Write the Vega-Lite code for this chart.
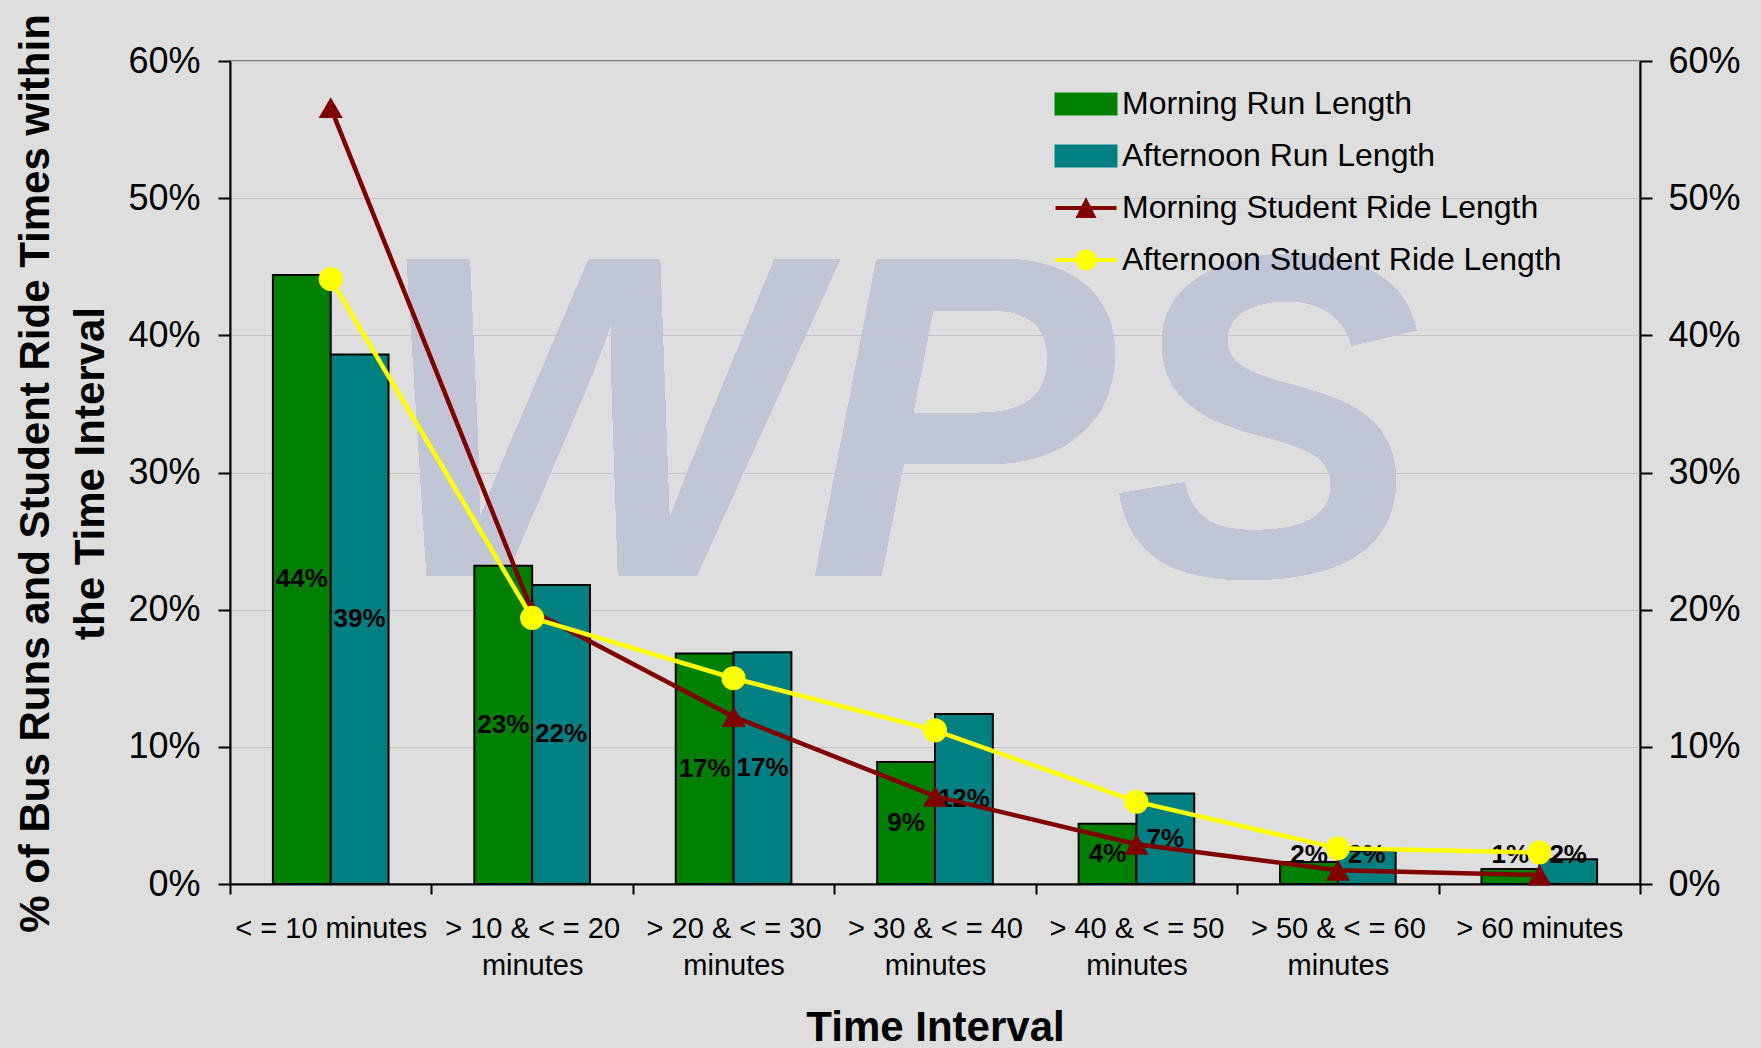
{
  "$schema": "https://vega.github.io/schema/vega-lite/v6.json",
  "width": 1410,
  "height": 823,
  "autosize": {"type": "none"},
  "padding": {"left": 230, "top": 61, "right": 121, "bottom": 164},
  "background": "#dedede",
  "config": {
    "font": "Liberation Sans",
    "view": {"stroke": "#808080", "strokeWidth": 2, "fill": "#dedede"}
  },
  "data": {
    "values": [
      {"interval": "< = 10 minutes", "series": "Morning Run Length", "value": 0.444},
      {"interval": "> 10 & < = 20 minutes", "series": "Morning Run Length", "value": 0.232},
      {"interval": "> 20 & < = 30 minutes", "series": "Morning Run Length", "value": 0.168},
      {"interval": "> 30 & < = 40 minutes", "series": "Morning Run Length", "value": 0.089},
      {"interval": "> 40 & < = 50 minutes", "series": "Morning Run Length", "value": 0.044},
      {"interval": "> 50 & < = 60 minutes", "series": "Morning Run Length", "value": 0.016},
      {"interval": "> 60 minutes", "series": "Morning Run Length", "value": 0.011},
      {"interval": "< = 10 minutes", "series": "Afternoon Run Length", "value": 0.386},
      {"interval": "> 10 & < = 20 minutes", "series": "Afternoon Run Length", "value": 0.218},
      {"interval": "> 20 & < = 30 minutes", "series": "Afternoon Run Length", "value": 0.169},
      {"interval": "> 30 & < = 40 minutes", "series": "Afternoon Run Length", "value": 0.124},
      {"interval": "> 40 & < = 50 minutes", "series": "Afternoon Run Length", "value": 0.066},
      {"interval": "> 50 & < = 60 minutes", "series": "Afternoon Run Length", "value": 0.024},
      {"interval": "> 60 minutes", "series": "Afternoon Run Length", "value": 0.018},
      {"interval": "< = 10 minutes", "series": "Morning Student Ride Length", "value": 0.566},
      {"interval": "> 10 & < = 20 minutes", "series": "Morning Student Ride Length", "value": 0.199},
      {"interval": "> 20 & < = 30 minutes", "series": "Morning Student Ride Length", "value": 0.122},
      {"interval": "> 30 & < = 40 minutes", "series": "Morning Student Ride Length", "value": 0.064},
      {"interval": "> 40 & < = 50 minutes", "series": "Morning Student Ride Length", "value": 0.029},
      {"interval": "> 50 & < = 60 minutes", "series": "Morning Student Ride Length", "value": 0.010},
      {"interval": "> 60 minutes", "series": "Morning Student Ride Length", "value": 0.0066},
      {"interval": "< = 10 minutes", "series": "Afternoon Student Ride Length", "value": 0.441},
      {"interval": "> 10 & < = 20 minutes", "series": "Afternoon Student Ride Length", "value": 0.194},
      {"interval": "> 20 & < = 30 minutes", "series": "Afternoon Student Ride Length", "value": 0.150},
      {"interval": "> 30 & < = 40 minutes", "series": "Afternoon Student Ride Length", "value": 0.112},
      {"interval": "> 40 & < = 50 minutes", "series": "Afternoon Student Ride Length", "value": 0.060},
      {"interval": "> 50 & < = 60 minutes", "series": "Afternoon Student Ride Length", "value": 0.026},
      {"interval": "> 60 minutes", "series": "Afternoon Student Ride Length", "value": 0.023}
    ]
  },
  "encoding": {
    "x": {
      "field": "interval",
      "type": "nominal",
      "sort": null,
      "scale": {
        "type": "band",
        "domain": ["< = 10 minutes", "> 10 & < = 20 minutes", "> 20 & < = 30 minutes", "> 30 & < = 40 minutes", "> 40 & < = 50 minutes", "> 50 & < = 60 minutes", "> 60 minutes"],
        "paddingInner": 0,
        "paddingOuter": 0
      },
      "axis": {
        "orient": "bottom",
        "title": "Time Interval",
        "titleFontSize": 42,
        "titleFontWeight": "bold",
        "titleColor": "black",
        "titleX": 705,
        "titleY": 156,
        "titleAlign": "center",
        "titleBaseline": "alphabetic",
        "labelAngle": 0,
        "labelFontSize": 29,
        "labelColor": "black",
        "labelLineHeight": 37,
        "labelBaseline": "alphabetic",
        "labelPadding": 43,
        "labelOverlap": false,
        "labelLimit": 400,
        "labelExpr": "length(datum.label) > 14 ? [replace(datum.label, ' minutes', ''), 'minutes'] : datum.label",
        "tickBand": "extent",
        "tickSize": 10,
        "tickColor": "black",
        "tickWidth": 2,
        "domainColor": "black",
        "domainWidth": 2,
        "grid": false
      }
    },
    "y": {
      "field": "value",
      "type": "quantitative",
      "scale": {"domain": [0, 0.6], "nice": false, "zero": true},
      "axis": {
        "orient": "left",
        "values": [0, 0.1, 0.2, 0.3, 0.4, 0.5, 0.6],
        "format": ".0%",
        "labelFontSize": 36,
        "labelColor": "black",
        "labelPadding": 18,
        "tickSize": 12,
        "tickColor": "black",
        "tickWidth": 2,
        "domainColor": "black",
        "domainWidth": 2,
        "grid": true,
        "gridColor": "#c4c4c4",
        "gridWidth": 1,
        "title": ["% of Bus Runs and Student Ride Times within", "the Time Interval"],
        "titleFontSize": 42,
        "titleFontWeight": "bold",
        "titleColor": "black",
        "titleLineHeight": 55,
        "titleAngle": 270,
        "titleAlign": "center",
        "titleBaseline": "alphabetic",
        "titleX": -182,
        "titleY": 412
      }
    },
    "color": {
      "field": "series",
      "type": "nominal",
      "scale": {
        "domain": ["Morning Run Length", "Afternoon Run Length", "Morning Student Ride Length", "Afternoon Student Ride Length"],
        "range": ["#008000", "#008080", "#800000", "#ffff00"]
      },
      "legend": {
        "orient": "none",
        "legendX": 840,
        "legendY": 27,
        "title": null,
        "padding": 0,
        "symbolSize": 1936,
        "symbolOpacity": 1,
        "symbolStrokeColor": "black",
        "symbolStrokeWidth": 0,
        "labelFontSize": 32,
        "labelColor": "black",
        "labelOffset": 20,
        "labelLimit": 600,
        "rowPadding": 20,
        "encode": {
          "symbols": {
            "update": {
              "shape": {"signal": "datum.value == 'Morning Run Length' || datum.value == 'Afternoon Run Length' ? 'M-1.386,-0.477H1.386V0.477H-1.386Z' : datum.value == 'Morning Student Ride Length' ? 'M-1.386,-0.09H-0.15V0.09H-1.386Z M0.15,-0.09H1.386V0.09H0.15Z M0,-0.5L0.477,0.45L-0.477,0.45Z' : 'M-1.386,-0.09H-0.3V0.09H-1.386Z M0.3,-0.09H1.386V0.09H0.3Z M0.477,0A0.477,0.477 0 1,1 -0.477,0A0.477,0.477 0 1,1 0.477,0Z'"},
              "fill": {"signal": "scale('color', datum.value)"},
              "stroke": {"signal": "datum.value == 'Morning Run Length' || datum.value == 'Afternoon Run Length' ? 'black' : 'transparent'"},
              "strokeWidth": {"signal": "datum.value == 'Morning Run Length' || datum.value == 'Afternoon Run Length' ? 2 : 0"},
              "opacity": {"value": 1},
              "fillOpacity": {"value": 1}
            }
          }
        }
      }
    }
  },
  "resolve": {"axis": {"y": "independent"}},
  "layer": [
    {
      "mark": {"type": "text", "text": "WPS", "fontSize": 460, "fontWeight": "bold", "fontStyle": "italic", "opacity": 0.22, "align": "center", "baseline": "alphabetic", "dx": -38},
      "encoding": {
        "x": {"datum": "> 30 & < = 40 minutes", "type": "nominal"},
        "y": {"datum": 0.225, "type": "quantitative", "axis": null},
        "color": {"value": "#c0c6d6"}
      }
    },
    {
      "transform": [{"filter": "datum.series == 'Morning Run Length' || datum.series == 'Afternoon Run Length'"}],
      "mark": {"type": "bar", "stroke": "black", "strokeWidth": 2, "opacity": 1},
      "encoding": {
        "xOffset": {"field": "series", "type": "nominal", "scale": {"domain": ["Morning Run Length", "Afternoon Run Length"], "paddingInner": 0, "paddingOuter": 0.742}}
      }
    },
    {
      "transform": [
        {"filter": "datum.series == 'Morning Run Length' || datum.series == 'Afternoon Run Length'"},
        {"calculate": "max(datum.value / 2, 0.021)", "as": "mid"}
      ],
      "mark": {"type": "text", "fontSize": 26, "fontWeight": "bold", "baseline": "middle", "align": "center"},
      "encoding": {
        "xOffset": {"field": "series", "type": "nominal", "scale": {"domain": ["Morning Run Length", "Afternoon Run Length"], "paddingInner": 0, "paddingOuter": 0.742}},
        "y": {"field": "mid", "type": "quantitative", "axis": null},
        "text": {"field": "value", "type": "quantitative", "format": ".0%"},
        "color": {"value": "black"}
      }
    },
    {
      "transform": [{"filter": "datum.series == 'Morning Student Ride Length' || datum.series == 'Afternoon Student Ride Length'"}],
      "mark": {"type": "line", "strokeWidth": 4.5},
      "encoding": {
        "y": {
          "field": "value",
          "type": "quantitative",
          "axis": {
            "orient": "right",
            "values": [0, 0.1, 0.2, 0.3, 0.4, 0.5, 0.6],
            "format": ".0%",
            "labelFontSize": 36,
            "labelColor": "black",
            "labelPadding": 16,
            "tickSize": 12,
            "tickColor": "black",
            "tickWidth": 2,
            "domainColor": "black",
            "domainWidth": 2,
            "grid": false,
            "title": null
          }
        },
        "color": {"field": "series", "type": "nominal", "legend": null}
      }
    },
    {
      "transform": [{"filter": "datum.series == 'Morning Student Ride Length' || datum.series == 'Afternoon Student Ride Length'"}],
      "mark": {"type": "point", "filled": true, "size": 580, "opacity": 1},
      "encoding": {
        "y": {"field": "value", "type": "quantitative", "axis": null},
        "shape": {
          "field": "series",
          "type": "nominal",
          "scale": {"domain": ["Morning Student Ride Length", "Afternoon Student Ride Length"], "range": ["triangle-up", "circle"]},
          "legend": null
        }
      }
    }
  ]
}
